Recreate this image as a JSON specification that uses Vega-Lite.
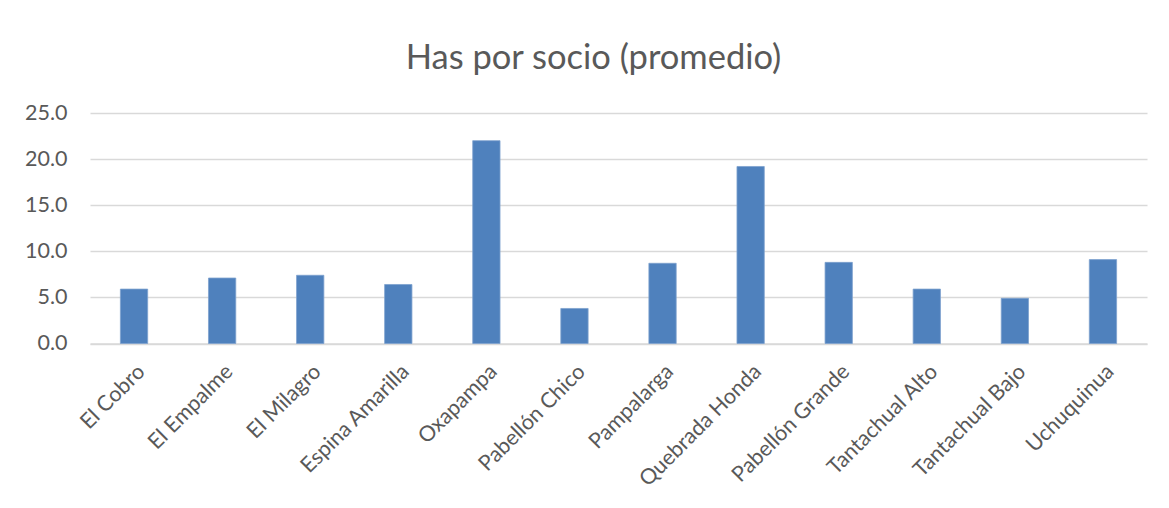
{
  "$schema": "https://vega.github.io/schema/vega-lite/v6.json",
  "autosize": {"type": "none"},
  "width": 1057,
  "height": 230.5,
  "padding": {"left": 90, "top": 113, "right": 22, "bottom": 164},
  "background": "white",
  "title": {
    "text": "Has por socio (promedio)",
    "font": "Lato",
    "fontSize": 34.5,
    "fontWeight": "normal",
    "color": "#595959",
    "anchor": "middle",
    "dx": -25,
    "offset": 26
  },
  "data": {
    "values": [
      {"comunidad": "El Cobro", "has": 5.9},
      {"comunidad": "El Empalme", "has": 7.1},
      {"comunidad": "El Milagro", "has": 7.4},
      {"comunidad": "Espina Amarilla", "has": 6.4},
      {"comunidad": "Oxapampa", "has": 22.0},
      {"comunidad": "Pabellón Chico", "has": 3.8},
      {"comunidad": "Pampalarga", "has": 8.7},
      {"comunidad": "Quebrada Honda", "has": 19.2},
      {"comunidad": "Pabellón Grande", "has": 8.8},
      {"comunidad": "Tantachual Alto", "has": 5.9},
      {"comunidad": "Tantachual Bajo", "has": 4.9},
      {"comunidad": "Uchuquinua", "has": 9.1}
    ]
  },
  "mark": {"type": "bar", "color": "#4F81BD", "stroke": "#7EA1CE", "strokeWidth": 0.8},
  "encoding": {
    "x": {
      "field": "comunidad",
      "type": "nominal",
      "sort": null,
      "scale": {"paddingInner": 0.69, "paddingOuter": 0.345},
      "axis": {
        "title": null,
        "labelAngle": -45,
        "labelFont": "Lato",
        "labelFontSize": 21.5,
        "labelColor": "#595959",
        "labelPadding": 17,
        "ticks": false,
        "domainColor": "#D9D9D9",
        "domainWidth": 1.5
      }
    },
    "y": {
      "field": "has",
      "type": "quantitative",
      "scale": {"domain": [0, 25], "nice": false},
      "axis": {
        "title": null,
        "values": [0, 5, 10, 15, 20, 25],
        "format": ".1f",
        "labelFont": "Lato",
        "labelFontSize": 21.5,
        "labelColor": "#595959",
        "labelPadding": 23,
        "ticks": false,
        "domain": false,
        "gridColor": "#D9D9D9",
        "gridWidth": 1.3
      }
    }
  },
  "config": {"view": {"stroke": null}}
}
